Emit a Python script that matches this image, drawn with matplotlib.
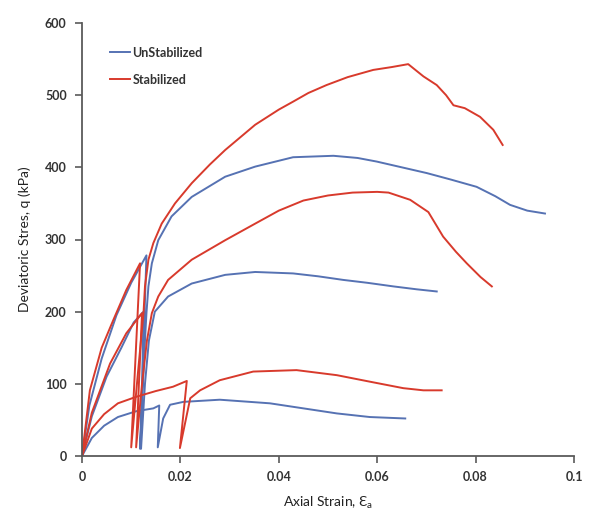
import matplotlib
matplotlib.use("Agg")
import matplotlib.pyplot as plt

plt.rcParams['font.family'] = ['Lato', 'DejaVu Sans']

# ---- data ----
unstab_high_x = [0, 0.0015, 0.0040, 0.0070, 0.0100, 0.0131, 0.0118, 0.0124, 0.0128, 0.0131, 0.0135,
                 0.0142, 0.0155, 0.0182, 0.0223, 0.0291, 0.0352, 0.0429, 0.0511, 0.0560, 0.0599,
                 0.0650, 0.0701, 0.0750, 0.0802, 0.0840, 0.0870, 0.0905, 0.0941]
unstab_high_y = [0, 70, 135, 195, 240, 278, 10, 100, 160, 198, 235,
                 267, 299, 332, 359, 387, 401, 414, 416, 413, 408,
                 400, 392, 383, 373, 360, 348, 340, 336]

unstab_mid_x = [0, 0.0020, 0.0050, 0.0080, 0.0105, 0.0125, 0.0120, 0.0128, 0.0136, 0.0148, 0.0175,
                0.0223, 0.0291, 0.0352, 0.0429, 0.0480, 0.0531, 0.0580, 0.0633, 0.0680, 0.0721]
unstab_mid_y = [0, 55, 110, 150, 185, 200, 10, 100, 160, 200, 221,
                239, 251, 255, 253, 249, 244, 240, 235, 231, 228]

unstab_low_x = [0, 0.0020, 0.0045, 0.0073, 0.0110, 0.0145, 0.0157, 0.0154, 0.0165, 0.0179, 0.0206,
                0.0280, 0.0382, 0.0450, 0.0518, 0.0585, 0.0657]
unstab_low_y = [0, 25, 42, 54, 62, 66, 70, 12, 52, 71, 75,
                78, 73, 66, 59, 54, 52]

stab_high_x = [0, 0.0016, 0.0040, 0.0064, 0.0090, 0.0118, 0.0100, 0.0113, 0.0125, 0.0128, 0.0135,
               0.0145, 0.0162, 0.0189, 0.0223, 0.0260, 0.0291, 0.0352, 0.0400, 0.0429, 0.0460,
               0.0497, 0.0540, 0.0592, 0.0630, 0.0663, 0.0694, 0.0721, 0.0740, 0.0755, 0.0778,
               0.0809, 0.0836, 0.0855]
stab_high_y = [0, 91, 150, 189, 230, 267, 12, 110, 198, 235, 272,
               295, 322, 350, 378, 404, 424, 459, 480, 491, 503,
               514, 525, 535, 539, 543, 526, 514, 500, 486, 482,
               470, 452, 431]

stab_mid_x = [0, 0.0020, 0.0057, 0.0090, 0.0122, 0.0110, 0.0122, 0.0132, 0.0142, 0.0155, 0.0175,
              0.0223, 0.0291, 0.0352, 0.0400, 0.0450, 0.0500, 0.0550, 0.0600, 0.0623, 0.0667,
              0.0704, 0.0734, 0.0760, 0.0782, 0.0810, 0.0833]
stab_mid_y = [0, 60, 128, 170, 198, 12, 100, 160, 198, 221, 244,
              272, 299, 322, 340, 354, 361, 365, 366, 365, 355,
              338, 304, 283, 267, 248, 235]

stab_low_x = [0, 0.0020, 0.0045, 0.0073, 0.0110, 0.0150, 0.0185, 0.0213, 0.0199, 0.0220, 0.0240,
              0.0280, 0.0348, 0.0436, 0.0518, 0.0585, 0.0653, 0.0694, 0.0731]
stab_low_y = [0, 38, 58, 73, 82, 90, 96, 104, 11, 80, 91,
              105, 117, 119, 112, 103, 94, 91, 91]

x_ticks = [0, 0.02, 0.04, 0.06, 0.08, 0.1]
x_tick_labels = ['0', '0.02', '0.04', '0.06', '0.08', '0.1']
y_ticks = [0, 100, 200, 300, 400, 500, 600]

BLUE = '#5672b3'
RED = '#d83a2c'

fig = plt.figure(figsize=(6.02, 5.23), dpi=100)
ax = fig.add_axes([82/602, 1 - 456/523, (574 - 82)/602, (456 - 23)/523])

lw = 1.4
ax.plot(unstab_high_x, unstab_high_y, color=BLUE, lw=lw, label='UnStabilized')
ax.plot(unstab_mid_x, unstab_mid_y, color=BLUE, lw=lw)
ax.plot(unstab_low_x, unstab_low_y, color=BLUE, lw=lw)
ax.plot(stab_high_x, stab_high_y, color=RED, lw=lw, label='Stabilized')
ax.plot(stab_mid_x, stab_mid_y, color=RED, lw=lw)
ax.plot(stab_low_x, stab_low_y, color=RED, lw=lw)

ax.set_xlim(0, 0.1)
ax.set_ylim(0, 600)
ax.set_xticks(x_ticks)
ax.set_xticklabels(x_tick_labels)
ax.set_yticks(y_ticks)

for s in ['top', 'right']:
    ax.spines[s].set_visible(False)
for s in ['left', 'bottom']:
    ax.spines[s].set_color('#5a5a5a')
    ax.spines[s].set_linewidth(1.3)

ax.tick_params(axis='both', direction='out', length=5, width=1.2, color='#5a5a5a',
               labelsize=9, labelcolor='#333333', pad=6)
for lab in ax.get_xticklabels() + ax.get_yticklabels():
    lab.set_fontweight('bold')

ax.set_xlabel('Axial Strain, Ɛ$_\\mathregular{a}$', fontsize=10, color='#222222', labelpad=8)
ax.set_ylabel('Deviatoric Stres, q (kPa)', fontsize=10, color='#222222', labelpad=10)

leg = ax.legend(loc='upper left', bbox_to_anchor=(0.057, 0.945), frameon=False,
                fontsize=9, handlelength=1.6, handletextpad=0.2, labelspacing=1.2,
                borderpad=0, borderaxespad=0)
for t in leg.get_texts():
    t.set_fontweight('bold')
    t.set_color('#333333')

fig.savefig('out.png', dpi=100)
